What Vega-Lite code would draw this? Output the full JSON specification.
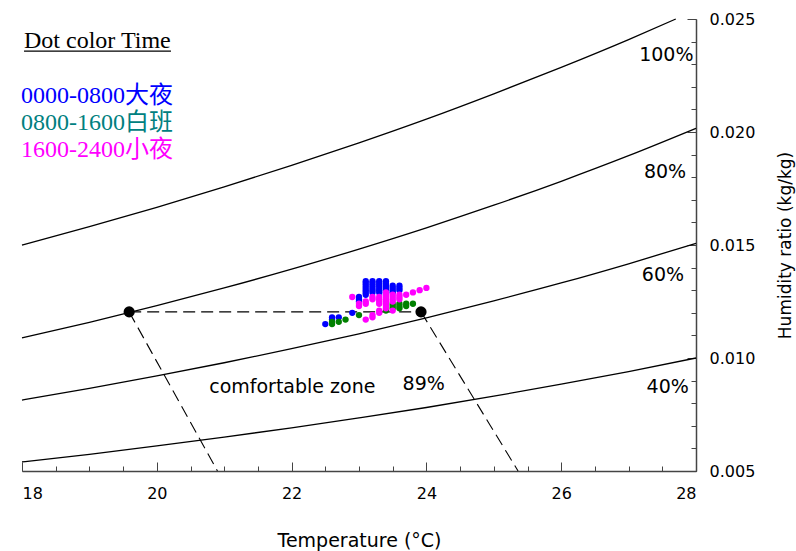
{
  "$schema": "https://vega.github.io/schema/vega-lite/v6.json",
  "width": 674,
  "height": 452,
  "autosize": {"type": "none"},
  "padding": {"left": 22, "top": 19, "right": 100, "bottom": 80},
  "background": "white",
  "config": {
    "view": {"stroke": null},
    "axis": {"grid": false, "labelFont": "DejaVu Sans", "titleFont": "DejaVu Sans", "labelColor": "black", "titleColor": "black", "domainColor": "#444", "tickColor": "#444", "titleFontWeight": "normal", "labelFontSize": 16}
  },
  "datasets": {
    "curves": [
      {"rh": "100", "t": 18, "w": 0.0150}, {"rh": "100", "t": 19, "w": 0.01581}, {"rh": "100", "t": 20, "w": 0.01667}, {"rh": "100", "t": 21, "w": 0.01757}, {"rh": "100", "t": 22, "w": 0.01852}, {"rh": "100", "t": 23, "w": 0.01952}, {"rh": "100", "t": 24, "w": 0.02057}, {"rh": "100", "t": 25, "w": 0.02169}, {"rh": "100", "t": 26, "w": 0.02286}, {"rh": "100", "t": 27, "w": 0.02409}, {"rh": "100", "t": 27.7, "w": 0.0250},
      {"rh": "80", "t": 18, "w": 0.01089}, {"rh": "80", "t": 19, "w": 0.01158}, {"rh": "80", "t": 20, "w": 0.01232}, {"rh": "80", "t": 21, "w": 0.01310}, {"rh": "80", "t": 22, "w": 0.01393}, {"rh": "80", "t": 23, "w": 0.01482}, {"rh": "80", "t": 24, "w": 0.01576}, {"rh": "80", "t": 25, "w": 0.01676}, {"rh": "80", "t": 26, "w": 0.01782}, {"rh": "80", "t": 27, "w": 0.01895}, {"rh": "80", "t": 28, "w": 0.02016},
      {"rh": "60", "t": 18, "w": 0.00814}, {"rh": "60", "t": 19, "w": 0.00866}, {"rh": "60", "t": 20, "w": 0.00921}, {"rh": "60", "t": 21, "w": 0.00979}, {"rh": "60", "t": 22, "w": 0.01041}, {"rh": "60", "t": 23, "w": 0.01107}, {"rh": "60", "t": 24, "w": 0.01178}, {"rh": "60", "t": 25, "w": 0.01253}, {"rh": "60", "t": 26, "w": 0.01332}, {"rh": "60", "t": 27, "w": 0.01417}, {"rh": "60", "t": 28, "w": 0.01507},
      {"rh": "40", "t": 18, "w": 0.00540}, {"rh": "40", "t": 19, "w": 0.00574}, {"rh": "40", "t": 20, "w": 0.00611}, {"rh": "40", "t": 21, "w": 0.00650}, {"rh": "40", "t": 22, "w": 0.00691}, {"rh": "40", "t": 23, "w": 0.00735}, {"rh": "40", "t": 24, "w": 0.00781}, {"rh": "40", "t": 25, "w": 0.00831}, {"rh": "40", "t": 26, "w": 0.00884}, {"rh": "40", "t": 27, "w": 0.00940}, {"rh": "40", "t": 28, "w": 0.01000}
    ],
    "comfort": [
      {"seg": "top", "t": 19.59, "w": 0.01204}, {"seg": "top", "t": 23.92, "w": 0.01204},
      {"seg": "left", "t": 19.59, "w": 0.01204}, {"seg": "left", "t": 20.9, "w": 0.005},
      {"seg": "right", "t": 23.92, "w": 0.01204}, {"seg": "right", "t": 25.36, "w": 0.005}
    ],
    "corners": [
      {"t": 19.59, "w": 0.01204}, {"t": 23.92, "w": 0.01204}
    ],
    "dots": [
      {"p": "0000-0800", "t": 22.5, "w": 0.0115}, {"p": "0000-0800", "t": 22.6, "w": 0.0117}, {"p": "0000-0800", "t": 22.6, "w": 0.0118}, {"p": "0000-0800", "t": 22.7, "w": 0.0118}, {"p": "0000-0800", "t": 22.9, "w": 0.0120},
      {"p": "0000-0800", "t": 23.0, "w": 0.0125}, {"p": "0000-0800", "t": 23.0, "w": 0.0126}, {"p": "0000-0800", "t": 23.0, "w": 0.0127},
      {"p": "0000-0800", "t": 23.1, "w": 0.0128}, {"p": "0000-0800", "t": 23.1, "w": 0.0129}, {"p": "0000-0800", "t": 23.1, "w": 0.0130}, {"p": "0000-0800", "t": 23.1, "w": 0.0131}, {"p": "0000-0800", "t": 23.1, "w": 0.0132}, {"p": "0000-0800", "t": 23.1, "w": 0.0133}, {"p": "0000-0800", "t": 23.1, "w": 0.0134},
      {"p": "0000-0800", "t": 23.2, "w": 0.0129}, {"p": "0000-0800", "t": 23.2, "w": 0.0130}, {"p": "0000-0800", "t": 23.2, "w": 0.0131}, {"p": "0000-0800", "t": 23.2, "w": 0.0132}, {"p": "0000-0800", "t": 23.2, "w": 0.0133}, {"p": "0000-0800", "t": 23.2, "w": 0.0134},
      {"p": "0000-0800", "t": 23.3, "w": 0.0129}, {"p": "0000-0800", "t": 23.3, "w": 0.0130}, {"p": "0000-0800", "t": 23.3, "w": 0.0131}, {"p": "0000-0800", "t": 23.3, "w": 0.0132}, {"p": "0000-0800", "t": 23.3, "w": 0.0133}, {"p": "0000-0800", "t": 23.3, "w": 0.0134},
      {"p": "0000-0800", "t": 23.4, "w": 0.0128}, {"p": "0000-0800", "t": 23.4, "w": 0.0129}, {"p": "0000-0800", "t": 23.4, "w": 0.0130}, {"p": "0000-0800", "t": 23.4, "w": 0.0131}, {"p": "0000-0800", "t": 23.4, "w": 0.0132}, {"p": "0000-0800", "t": 23.4, "w": 0.0133}, {"p": "0000-0800", "t": 23.4, "w": 0.0134},
      {"p": "0000-0800", "t": 23.5, "w": 0.0129}, {"p": "0000-0800", "t": 23.5, "w": 0.0130}, {"p": "0000-0800", "t": 23.5, "w": 0.0131}, {"p": "0000-0800", "t": 23.5, "w": 0.0132},
      {"p": "0000-0800", "t": 23.6, "w": 0.0130}, {"p": "0000-0800", "t": 23.6, "w": 0.0131}, {"p": "0000-0800", "t": 23.6, "w": 0.0132},
      {"p": "0800-1600", "t": 22.6, "w": 0.0115}, {"p": "0800-1600", "t": 22.6, "w": 0.0116}, {"p": "0800-1600", "t": 22.7, "w": 0.0116}, {"p": "0800-1600", "t": 22.8, "w": 0.0117}, {"p": "0800-1600", "t": 23.0, "w": 0.0119}, {"p": "0800-1600", "t": 23.4, "w": 0.0121},
      {"p": "0800-1600", "t": 23.5, "w": 0.0122}, {"p": "0800-1600", "t": 23.5, "w": 0.0123}, {"p": "0800-1600", "t": 23.5, "w": 0.0124},
      {"p": "0800-1600", "t": 23.6, "w": 0.0122}, {"p": "0800-1600", "t": 23.6, "w": 0.0123}, {"p": "0800-1600", "t": 23.6, "w": 0.0124},
      {"p": "0800-1600", "t": 23.7, "w": 0.0123}, {"p": "0800-1600", "t": 23.7, "w": 0.0124}, {"p": "0800-1600", "t": 23.8, "w": 0.0124},
      {"p": "1600-2400", "t": 22.9, "w": 0.0127}, {"p": "1600-2400", "t": 23.0, "w": 0.0123}, {"p": "1600-2400", "t": 23.0, "w": 0.0124},
      {"p": "1600-2400", "t": 23.1, "w": 0.0117}, {"p": "1600-2400", "t": 23.1, "w": 0.0124}, {"p": "1600-2400", "t": 23.1, "w": 0.0125},
      {"p": "1600-2400", "t": 23.2, "w": 0.0118}, {"p": "1600-2400", "t": 23.2, "w": 0.0119}, {"p": "1600-2400", "t": 23.2, "w": 0.0126}, {"p": "1600-2400", "t": 23.2, "w": 0.0127},
      {"p": "1600-2400", "t": 23.3, "w": 0.0120}, {"p": "1600-2400", "t": 23.3, "w": 0.0121}, {"p": "1600-2400", "t": 23.3, "w": 0.0124}, {"p": "1600-2400", "t": 23.3, "w": 0.0125}, {"p": "1600-2400", "t": 23.3, "w": 0.0126}, {"p": "1600-2400", "t": 23.3, "w": 0.0127},
      {"p": "1600-2400", "t": 23.4, "w": 0.0122}, {"p": "1600-2400", "t": 23.4, "w": 0.0123}, {"p": "1600-2400", "t": 23.4, "w": 0.0124}, {"p": "1600-2400", "t": 23.4, "w": 0.0125}, {"p": "1600-2400", "t": 23.4, "w": 0.0126}, {"p": "1600-2400", "t": 23.4, "w": 0.0127}, {"p": "1600-2400", "t": 23.4, "w": 0.0128}, {"p": "1600-2400", "t": 23.4, "w": 0.0129},
      {"p": "1600-2400", "t": 23.5, "w": 0.0121}, {"p": "1600-2400", "t": 23.5, "w": 0.0125}, {"p": "1600-2400", "t": 23.5, "w": 0.0126}, {"p": "1600-2400", "t": 23.5, "w": 0.0127}, {"p": "1600-2400", "t": 23.5, "w": 0.0128},
      {"p": "1600-2400", "t": 23.6, "w": 0.0126}, {"p": "1600-2400", "t": 23.6, "w": 0.0127}, {"p": "1600-2400", "t": 23.6, "w": 0.0128},
      {"p": "1600-2400", "t": 23.7, "w": 0.0128}, {"p": "1600-2400", "t": 23.8, "w": 0.0129}, {"p": "1600-2400", "t": 23.9, "w": 0.0130}, {"p": "1600-2400", "t": 24.0, "w": 0.0131}
    ],
    "labels": [
      {"text": "100%", "t": 27.56, "w": 0.02341},
      {"text": "80%", "t": 27.54, "w": 0.01823},
      {"text": "60%", "t": 27.51, "w": 0.01367},
      {"text": "40%", "t": 27.58, "w": 0.00872},
      {"text": "89%", "t": 23.96, "w": 0.00885},
      {"text": "comfortable zone", "t": 22.01, "w": 0.00872}
    ],
    "legend": [
      {"text": "Dot color Time", "g": "title", "t": 18.03, "w": 0.02370},
      {"text": "0000-0800大夜", "g": "a", "t": 17.985, "w": 0.02127},
      {"text": "0800-1600白班", "g": "b", "t": 17.985, "w": 0.02009},
      {"text": "1600-2400小夜", "g": "c", "t": 17.985, "w": 0.01889}
    ],
    "underline": [
      {"t": 18.03, "t2": 20.21, "w": 0.02358}
    ]
  },
  "layer": [
    {
      "data": {"name": "curves"},
      "mark": {"type": "line", "color": "black", "strokeWidth": 1.3, "interpolate": "monotone"},
      "encoding": {
        "x": {"field": "t", "type": "quantitative", "scale": {"domain": [18, 28], "nice": false, "zero": false},
          "axis": {"orient": "bottom", "values": [18, 18.5, 19, 19.5, 20, 20.5, 21, 21.5, 22, 22.5, 23, 23.5, 24, 24.5, 25, 25.5, 26, 26.5, 27, 27.5, 28], "labels": false, "tickSize": -5, "title": null, "domain": true, "domainWidth": 1.5}},
        "y": {"field": "w", "type": "quantitative", "scale": {"domain": [0.005, 0.025], "nice": false, "zero": false},
          "axis": {"orient": "right", "values": [0.005, 0.006, 0.007, 0.008, 0.009, 0.01, 0.011, 0.012, 0.013, 0.014, 0.015, 0.016, 0.017, 0.018, 0.019, 0.02, 0.021, 0.022, 0.023, 0.024, 0.025], "labels": false, "tickSize": -5, "title": null, "domain": true, "domainWidth": 1.5}},
        "detail": {"field": "rh"}
      }
    },
    {
      "data": {"name": "comfort"},
      "mark": {"type": "line", "color": "black", "strokeWidth": 1.1, "strokeDash": [12, 6]},
      "encoding": {
        "x": {"field": "t", "type": "quantitative", "scale": {"domain": [18, 28], "nice": false, "zero": false},
          "axis": {"orient": "bottom", "values": [18, 20, 22, 24, 26, 28], "tickSize": -9, "labelPadding": 23, "domain": false, "title": "Temperature (°C)", "titleFontSize": 19, "titlePadding": 30}},
        "y": {"field": "w", "type": "quantitative", "scale": {"domain": [0.005, 0.025], "nice": false, "zero": false},
          "axis": {"orient": "right", "values": [0.005, 0.01, 0.015, 0.02, 0.025], "format": ".3f", "tickSize": -9, "labelPadding": 22, "domain": false, "title": "Humidity ratio (kg/kg)", "titleAngle": 270, "titleFontSize": 17, "titlePadding": 40}},
        "detail": {"field": "seg"}
      }
    },
    {
      "data": {"name": "dots"},
      "mark": {"type": "circle", "size": 40, "opacity": 1},
      "encoding": {
        "x": {"field": "t", "type": "quantitative", "axis": null},
        "y": {"field": "w", "type": "quantitative", "axis": null},
        "color": {"field": "p", "type": "nominal", "legend": null, "scale": {"domain": ["0000-0800", "0800-1600", "1600-2400"], "range": ["#0000FF", "#008000", "#FF00FF"]}}
      }
    },
    {
      "data": {"name": "corners"},
      "mark": {"type": "circle", "size": 125, "opacity": 1, "color": "black"},
      "encoding": {
        "x": {"field": "t", "type": "quantitative", "axis": null},
        "y": {"field": "w", "type": "quantitative", "axis": null}
      }
    },
    {
      "data": {"name": "labels"},
      "mark": {"type": "text", "font": "DejaVu Sans", "fontSize": 19, "align": "center", "baseline": "middle", "color": "black"},
      "encoding": {
        "x": {"field": "t", "type": "quantitative", "axis": null},
        "y": {"field": "w", "type": "quantitative", "axis": null},
        "text": {"field": "text"}
      }
    },
    {
      "data": {"name": "legend"},
      "mark": {"type": "text", "font": "Liberation Serif, Noto Sans CJK TC", "fontSize": 24, "align": "left", "baseline": "alphabetic"},
      "encoding": {
        "x": {"field": "t", "type": "quantitative", "axis": null},
        "y": {"field": "w", "type": "quantitative", "axis": null},
        "text": {"field": "text"},
        "color": {"field": "g", "type": "nominal", "legend": null, "scale": {"domain": ["title", "a", "b", "c"], "range": ["black", "#0000FF", "#008080", "#FF00FF"]}}
      }
    },
    {
      "data": {"name": "underline"},
      "mark": {"type": "rule", "color": "black", "strokeWidth": 1.2},
      "encoding": {
        "x": {"field": "t", "type": "quantitative", "axis": null},
        "x2": {"field": "t2"},
        "y": {"field": "w", "type": "quantitative", "axis": null}
      }
    }
  ],
  "resolve": {"axis": {"x": "independent", "y": "independent"}, "scale": {"color": "independent"}}
}
